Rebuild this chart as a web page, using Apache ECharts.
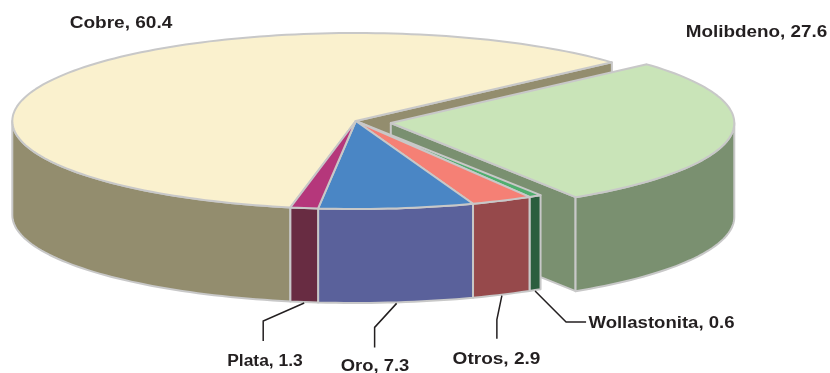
<!DOCTYPE html>
<html><head><meta charset="utf-8">
<style>html,body{margin:0;padding:0;background:#fff}#c{width:830px;height:373px}</style>
<script src="https://cdn.jsdelivr.net/npm/echarts@6/dist/echarts.min.js"></script>
</head><body><div id="c"></div>
<script>
const categories = ['Molibdeno','Wollastonita','Otros','Oro','Plata','Cobre'];
const values = [27.6,0.6,2.9,7.3,1.3,60.4];
const topColors = ['#C9E4B8','#4FAE6E','#F58075','#4A86C5','#B5377B','#FAF1CE'];
const wallColors = ['#7A9070','#2B5E3E','#96494B','#5A619B','#682C42','#938D6E'];

// pie projection
const CX=355.8, CY=121, RX=343.5, RY=88, DEPTH=94, START=41.8, EXPLODE_X=35, EXPLODE_Y=2;
const STROKE='#C8C8C8', STROKE_W=2, INK='#231F20';
const FONT='bold 16px "Liberation Sans", Arial, sans-serif';
// label layout: text x, text y, horizontal stretch, elbow dx, elbow dy, end dx, end dy
const labelLayout = {
  Cobre:[121,24,1.19], Molibdeno:[756.5,33,1.18],
  Plata:[265,362,1.09,-41,18,-41,38],
  Oro:[375,367,1.15,-22,24,-22,44],
  Otros:[496.5,360,1.19,-5,24,-5,43],
  Wollastonita:[661.5,324,1.16,31,31,51,31]
};

const total = values.reduce((a,b)=>a+b,0);
const rad = d=>d*Math.PI/180;
let acc = START;
const slices = categories.map((name,i)=>{
  const a0=acc, a1=acc-values[i]/total*360; acc=a1;
  const ex = i===0;
  return {name,i,a0,a1,cx:CX+(ex?EXPLODE_X:0),cy:CY+(ex?EXPLODE_Y:0)};
});
const pt=(s,a,d=0)=>[s.cx+RX*Math.cos(rad(a)), s.cy-RY*Math.sin(rad(a))+d];
function arc(s,a0,a1,d=0){
  const n=Math.max(2,Math.ceil(Math.abs(a1-a0)/1.5)), out=[];
  for(let k=0;k<=n;k++) out.push(pt(s,a0+(a1-a0)*k/n,d));
  return out;
}
const poly=(points,fill)=>({type:'polygon',shape:{points},style:{fill,stroke:STROKE,lineWidth:STROKE_W,lineJoin:'round'}});
const wall=(s,a0,a1,c)=>poly(arc(s,a0,a1).concat(arc(s,a1,a0,DEPTH)),c);
const radial=(s,a,c)=>poly([[s.cx,s.cy],pt(s,a),pt(s,a,DEPTH),[s.cx,s.cy+DEPTH]],c);
const topFace=(s,c)=>poly([[s.cx,s.cy]].concat(arc(s,s.a0,s.a1)),c);

function sliceItems(){
  const els=[];
  const mol=slices[0], cob=slices[5];
  // back to front: Cobre cut face, exploded slice, then the rest
  els.push(radial(cob,cob.a1,wallColors[5]));
  els.push(radial(mol,mol.a1,wallColors[0]));
  els.push(wall(mol,Math.min(mol.a0,0),mol.a1,wallColors[0]));
  els.push(topFace(mol,topColors[0]));
  // outer walls of the main body that face the viewer
  els.push(wall(cob,-180,cob.a0,wallColors[5]));
  slices.slice(1,5).forEach(s=>els.push(wall(s,s.a0,s.a1,wallColors[s.i])));
  els.push(topFace(cob,topColors[5]));
  slices.slice(1,5).forEach(s=>els.push(topFace(s,topColors[s.i])));
  return els;
}
function labelItems(){
  const els=[];
  slices.forEach(s=>{
    const L=labelLayout[s.name];
    if(L.length>3){
      const p=pt(s,(s.a0+s.a1)/2,DEPTH+1);
      const pts=[p,[p[0]+L[3],p[1]+L[4]],[p[0]+L[5],p[1]+L[6]]];
      els.push({type:'polyline',shape:{points:pts},style:{fill:null,stroke:INK,lineWidth:1.5}});
    }
    els.push({type:'text',x:L[0],y:L[1],scaleX:L[2],style:{text:s.name+', '+values[s.i],font:FONT,fill:INK,textAlign:'center',textVerticalAlign:'middle'}});
  });
  return els;
}
const chart=echarts.init(document.getElementById('c'),null,{renderer:'canvas'});
chart.setOption({
  animation:false,
  backgroundColor:'#fff',
  series:[{
    type:'custom',
    coordinateSystem:'none',
    silent:true,
    data:categories.map((c,i)=>[values[i]]),
    renderItem(params){
      if(params.dataIndex!==0) return null;
      return {type:'group',children:sliceItems().concat(labelItems())};
    }
  }]
});
</script></body></html>
